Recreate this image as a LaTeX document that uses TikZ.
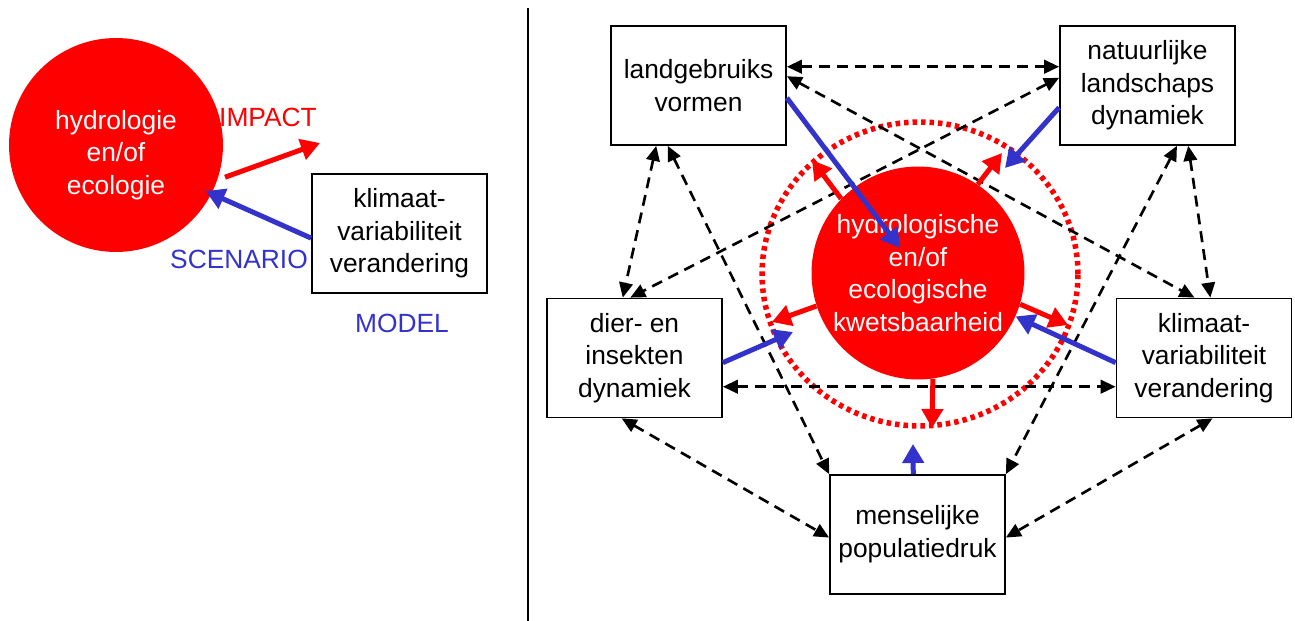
\documentclass[tikz,border=0pt]{standalone}
\usepackage{fontspec}
\setmainfont{Liberation Sans}
\usetikzlibrary{arrows.meta}
\definecolor{rood}{RGB}{255,0,0}
\definecolor{blauw}{RGB}{51,51,204}

\begin{document}
\begin{tikzpicture}[x=0.02cm,y=-0.02cm,
 font=\fontsize{15pt}{18.6pt}\selectfont,
 doos/.style={draw,line width=1pt,minimum width=3.5cm,minimum height=2.38cm,inner sep=0pt,align=center},
 bol/.style={circle,fill=rood,text=white,inner sep=0pt,align=center},
 relatie/.style={line width=1.5pt,dash pattern=on 0.22cm off 0.14cm,{Triangle[length=0.3cm,width=0.27cm]}-{Triangle[length=0.3cm,width=0.27cm]}},
 invloed/.style={blauw,line width=0.1cm,-{Triangle[length=0.38cm,width=0.42cm]}},
 effect/.style={rood,line width=0.1cm,-{Triangle[length=0.38cm,width=0.42cm]}}]
 \useasboundingbox (0,0) rectangle (1295,621); %全体の枠
 % 左: モデル
 \node[bol,minimum size=4.28cm,label={[text=white,align=center,yshift=-0.2cm]center:hydrologie\\en/of\\ecologie}] (H0) at (116,145) {}; %左の円
 \node[doos] (K0) at (399.5,233.5) {klimaat-\\variabiliteit\\verandering}; %左の箱
 \node[text=rood] (IM) at (268,117) {IMPACT};
 \node[text=blauw] (SC) at (239,259) {SCENARIO};
 \node[text=blauw] (MO) at (402,323) {MODEL};
 \coordinate (IMpunt) at (320,143); %IMPACTの矢印の先
 \draw[effect,shorten <=0.16cm] (H0.-19) -- (IMpunt);
 \draw[invloed,shorten >=-0.13cm] (K0.183) -- (H0.-27);
 \draw[line width=0.8pt] (528,8) -- (528,621); %区切り線
 % 右: 関係図
 \node[doos] (LG) at (698.5,85.5) {landgebruiks\\vormen};
 \node[doos] (NL) at (1147.5,85.5) {natuurlijke\\landschaps\\dynamiek};
 \node[doos] (DI) at (634.5,358) {dier- en\\insekten\\dynamiek};
 \node[doos] (KV) at (1204,358) {klimaat-\\variabiliteit\\verandering};
 \node[doos] (MP) at (917.5,534.5) {menselijke\\populatiedruk};
 \draw[rood,line width=0.11cm,dash pattern=on 0.09cm off 0.08cm] (920,274) ellipse [x radius=3.16cm,y radius=3.04cm]; %点線の輪
 \node[bol,minimum size=4.26cm] (HE) at (918,273) {hydrologische\\en/of\\ecologische\\kwetsbaarheid}; %中央の円
 % 破線の矢印
 \draw[relatie] (LG.12) -- (NL.168);
 \draw[relatie] (LG.6) -- (KV.99);
 \draw[relatie] (NL.175) -- (DI.94);
 \draw[relatie] (LG.235) -- (DI.101);
 \draw[relatie] (LG.243) -- (MP.north west);
 \draw[relatie] (NL.296) -- (MP.north east);
 \draw[relatie] (NL.304) -- (KV.84);
 \draw[relatie] (DI.-18) -- (KV.198);
 \draw[relatie] (DI.258) -- (MP.182);
 \draw[relatie] (KV.-82) -- (MP.-2);
 % 赤い矢印
 \coordinate (R1) at (812,160);
 \coordinate (R2) at (1002,153);
 \coordinate (R3) at (772,322);
 \coordinate (R4) at (1068,325);
 \coordinate (R5) at (932,428);
 \draw[effect] (HE.136) -- (R1);
 \draw[effect] (HE.56) -- (R2);
 \draw[effect] (HE.198) -- (R3);
 \draw[effect] (HE.-17) -- (R4);
 \draw[effect] (HE.-82) -- (R5);
 % 青い矢印
 \coordinate (B1) at (900,248);
 \coordinate (B2) at (1005,168);
 \coordinate (B3) at (793,332);
 \coordinate (B5) at (913,444);
 \draw[invloed] (LG.-8) -- (B1);
 \draw[invloed] (NL.194) -- (B2);
 \draw[invloed] (DI.-3) -- (B3);
 \draw[invloed] (KV.183) -- (HE.-24);
 \draw[invloed] (MP.94) -- (B5);
\end{tikzpicture}
\end{document}
